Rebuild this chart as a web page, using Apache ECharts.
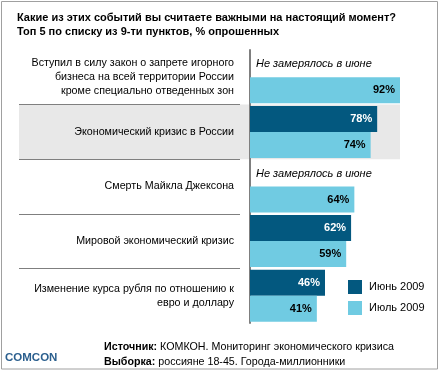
<!DOCTYPE html>
<html>
<head>
<meta charset="utf-8">
<script src="https://cdn.jsdelivr.net/npm/echarts@6/dist/echarts.min.js"></script>
<style>html,body{margin:0;padding:0;background:#fff}#c{width:440px;height:371px}</style>
</head>
<body>
<div id="c"></div>
<script>
const categories = [
  'Вступил в силу закон о запрете игорного\nбизнеса на всей территории России\nкроме специально отведенных зон',
  'Экономический кризис в России',
  'Смерть Майкла Джексона',
  'Мировой экономический кризис',
  'Изменение курса рубля по отношению к\nевро и доллару'
];
const june = [null, 78, null, 62, 46];
const july = [92, 74, 64, 59, 41];
const seriesNames = ['Июнь 2009', 'Июль 2009'];
const notMeasured = 'Не замерялось в июне';
const titleText = 'Какие из этих событий вы считаете важными на настоящий момент?\nТоп 5 по списку из 9-ти пунктов, % опрошенных';

const FONT = '"Liberation Sans", Arial, sans-serif';
const DARK = '#03587f';
const LIGHT = '#70cbe2';
const T = 'rgba(0,0,0,0)';

const chart = echarts.init(document.getElementById('c'), null, {renderer: 'canvas'});

const juneData = june.map(v => v == null ? {
  value: 0,
  label: {show: true, position: 'right', distance: 6, formatter: notMeasured,
          color: '#000', fontStyle: 'italic', fontWeight: 'normal', fontSize: 11, fontFamily: FONT}
} : v);

chart.setOption({
  backgroundColor: '#fff',
  animation: false,
  textStyle: {fontFamily: FONT},
  title: [
    {text: titleText, left: 17, top: 11, padding: 0,
     textStyle: {fontSize: 11, fontWeight: 'bold', color: '#000', lineHeight: 14, fontFamily: FONT}},
    {text: '{b|Источник:} КОМКОН. Мониторинг экономического кризиса\n{b|Выборка:} россияне 18-45. Города-миллионники',
     left: 104, top: 340, padding: 0,
     textStyle: {fontSize: 10.7, fontWeight: 'normal', color: '#000', lineHeight: 14.5, fontFamily: FONT,
       rich: {b: {fontSize: 10.7, fontWeight: 'bold', color: '#000', fontFamily: FONT, lineHeight: 14.5}}}},
    {text: 'COMCON', left: 5, top: 352, padding: 0,
     textStyle: {fontSize: 11.5, fontWeight: 'bold', color: '#2b5f8e', fontFamily: FONT}}
  ],
  legend: {
    data: seriesNames, orient: 'vertical', left: 348, top: 280, padding: 0,
    itemWidth: 14, itemHeight: 14, itemGap: 7, icon: 'rect',
    textStyle: {fontSize: 11, color: '#000', fontFamily: FONT, padding: [0, 0, 0, 2]}
  },
  graphic: [{
    type: 'rect', shape: {x: 1.5, y: 1.5, width: 436, height: 367.5},
    style: {fill: 'none', stroke: '#a0a0a0', lineWidth: 1}, silent: true
  }],
  grid: [
    {left: 19, top: 50, width: 381, height: 273},
    {left: 19, top: 50, width: 221, height: 273},
    {left: 250, top: 50, width: 150, height: 273}
  ],
  xAxis: [
    {gridIndex: 0, type: 'value', min: 0, max: 1, show: false},
    {gridIndex: 1, type: 'value', min: 0, max: 1, show: false},
    {gridIndex: 2, type: 'value', min: 0, max: 92, show: false}
  ],
  yAxis: [
    {gridIndex: 0, type: 'category', data: categories, inverse: true,
     axisLine: {show: false}, axisTick: {show: false}, axisLabel: {show: false},
     splitLine: {show: false},
     splitArea: {show: true, areaStyle: {color: [T, '#e8e8e8', T, T, T]}}},
    {gridIndex: 1, type: 'category', data: categories, inverse: true, position: 'right',
     axisLine: {show: false}, axisTick: {show: false},
     axisLabel: {show: true, inside: true, margin: 6, align: 'right', fontSize: 10.7, lineHeight: 14,
                 color: '#000', fontFamily: FONT},
     splitLine: {show: true, lineStyle: {color: [T, '#7f7f7f', '#7f7f7f', '#7f7f7f', '#7f7f7f', T], width: 1}}},
    {gridIndex: 2, type: 'category', data: categories, inverse: true, offset: 1,
     axisLine: {show: true, lineStyle: {color: '#7f7f7f', width: 2}},
     axisTick: {show: false}, axisLabel: {show: false}, splitLine: {show: false}}
  ],
  series: [
    {name: seriesNames[0], type: 'bar', xAxisIndex: 2, yAxisIndex: 2, data: juneData,
     barWidth: 26, barGap: '0%', itemStyle: {color: DARK},
     label: {show: true, position: 'insideRight', distance: 5, formatter: '{c}%', color: '#fff',
             fontWeight: 'bold', fontSize: 11, fontFamily: FONT}},
    {name: seriesNames[1], type: 'bar', xAxisIndex: 2, yAxisIndex: 2, data: july,
     barWidth: 26, barGap: '0%', itemStyle: {color: LIGHT},
     label: {show: true, position: 'insideRight', distance: 5, formatter: '{c}%', color: '#000',
             fontWeight: 'bold', fontSize: 11, fontFamily: FONT}}
  ]
});
</script>
</body>
</html>
